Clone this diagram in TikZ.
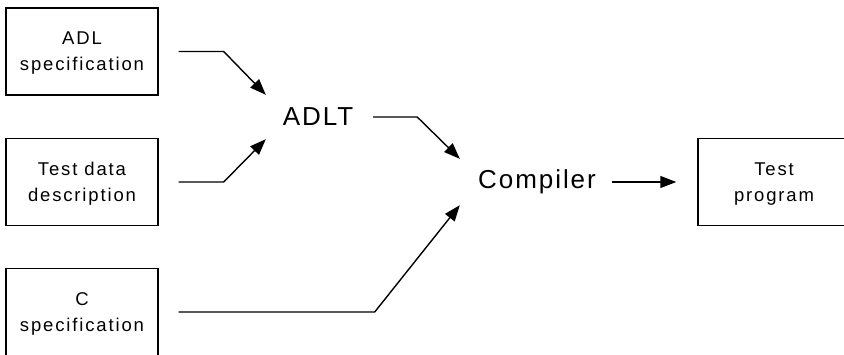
\documentclass[tikz,border=0pt]{standalone}
\usepackage{fontspec}
\newfontfamily\boxfont{Liberation Sans}[LetterSpace=10]
\newfontfamily\bigfont{Liberation Sans}[LetterSpace=7.5]
\usetikzlibrary{arrows.meta}
\begin{document}
\begin{tikzpicture}[x=1pt,y=-1pt,
  box/.style={draw,line width=1.4pt,minimum width=152pt,minimum height=87pt,inner sep=0pt,align=center,
    text depth=-2pt,font=\boxfont\fontsize{18.5}{26}\selectfont},
  stage/.style={inner sep=0pt,font=\bigfont\fontsize{26}{30}\selectfont},
  conn/.style={line width=1.4pt,-{Triangle[length=16pt,width=12pt]}}]
\useasboundingbox (0,0) rectangle (844,354);
\clip (0,0) rectangle (844,354);
\node[box] (adl) at (82,51.5) {ADL\\specification};
\node[box] (tdd) at (82,182) {Test data\\description};
\node[box] (cspec) at (82,312) {C\\specification};
\node[box] (tprog) at (774,182) {Test\\program};
\node[stage,minimum width=104pt,minimum height=44pt] (adlt) at (318,117) {ADLT};
\node[stage,minimum width=154pt,minimum height=46pt] (comp) at (537,182) {Compiler};
\draw[conn] ([xshift=20pt]adl.east) -- ++(45,0) -- (adlt.north west);
\draw[conn] ([xshift=20pt]tdd.east) -- ++(45,0) -- (adlt.south west);
\draw[conn] ([xshift=3pt]adlt.east) -- ++(44,0) -- (comp.north west);
\draw[conn] ([xshift=20pt]cspec.east) -- ++(196,0) -- (comp.south west);
\draw[conn] ([xshift=-2pt]comp.east) -- ([xshift=-21pt]tprog.west);
\end{tikzpicture}
\end{document}
